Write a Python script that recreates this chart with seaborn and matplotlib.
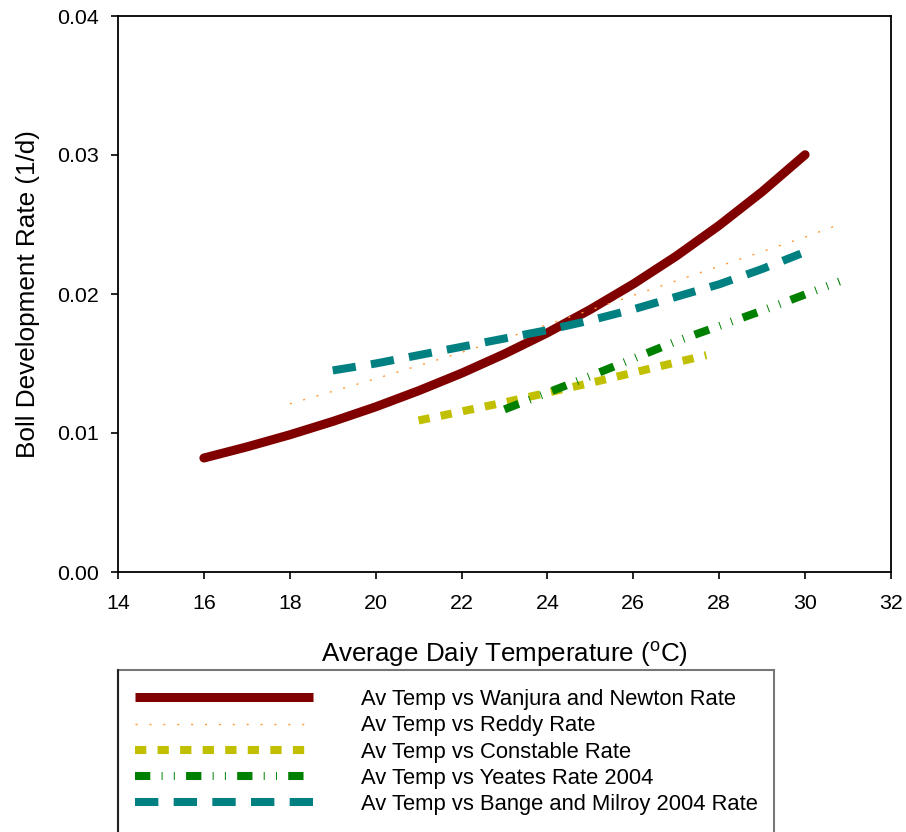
import matplotlib
matplotlib.use("Agg")
import matplotlib.pyplot as plt
import seaborn as sns
import pandas as pd
from matplotlib.patches import Rectangle
from matplotlib.lines import Line2D

# ---- data ----
wanjura_t = [16, 17, 18, 19, 20, 21, 22, 23, 24, 25, 26, 27, 28, 29, 30]
wanjura_r = [0.00820, 0.00900, 0.00987, 0.01083, 0.01188, 0.01304, 0.01430, 0.01569,
             0.01721, 0.01889, 0.02072, 0.02273, 0.02494, 0.02736, 0.03002]
reddy_t = [18, 20, 22, 24, 26, 28, 30, 30.8]
reddy_r = [0.0121, 0.0139, 0.0158, 0.0178, 0.0199, 0.0220, 0.0241, 0.0250]
constable_t = [21, 23, 25, 27.7]
constable_r = [0.0109, 0.0122, 0.0136, 0.0156]
yeates_t = [23, 25, 27, 29, 30.8]
yeates_r = [0.0117, 0.0141, 0.0166, 0.0188, 0.0209]
bange_t = [19, 20, 21, 22, 23, 24, 25, 26, 27, 28, 29, 29.9]
bange_r = [0.0145, 0.0150, 0.0156, 0.0162, 0.0168, 0.0174, 0.0181, 0.0189,
           0.0198, 0.0207, 0.0218, 0.0229]

labels = ["Av Temp vs Wanjura and Newton Rate",
          "Av Temp vs Reddy Rate",
          "Av Temp vs Constable Rate",
          "Av Temp vs Yeates Rate 2004",
          "Av Temp vs Bange and Milroy 2004 Rate"]
x_ticks = [14, 16, 18, 20, 22, 24, 26, 28, 30, 32]
y_ticks = [0.00, 0.01, 0.02, 0.03, 0.04]

sns.set_theme(style="ticks")
plt.rcParams['font.family'] = ['Liberation Sans', 'DejaVu Sans']
plt.rcParams['mathtext.fontset'] = 'custom'
plt.rcParams['mathtext.rm'] = 'Liberation Sans'
plt.rcParams['text.color'] = 'black'
plt.rcParams['axes.labelcolor'] = 'black'

fig = plt.figure(figsize=(9.06, 8.32), dpi=100)
ax = fig.add_axes([118/906, 1 - 572/832, (891-118)/906, (572-16)/832])

series = [
    (wanjura_t, wanjura_r, "#800000", 6.5, "-"),
    (reddy_t, reddy_r, "#FF9933", 1.0, (0, (1.5, 8.5))),
    (constable_t, constable_r, "#C0C000", 5.8, (0, (1.4, 1.4))),
    (yeates_t, yeates_r, "#008000", 5.8, (0, (1.9, 1.4, 0.12, 1.4, 0.12, 1.4))),
    (bange_t, bange_r, "#008080", 5.8, (0, (2.9, 1.9))),
]
handles = []
for (t, r, c, lw, ls), lab in zip(series, labels):
    df = pd.DataFrame({"t": t, "r": r})
    sns.lineplot(data=df, x="t", y="r", ax=ax, color=c, linewidth=lw,
                 linestyle=ls, sort=False, estimator=None)
    handles.append(Line2D([], [], color=c, linewidth=lw, linestyle=ls,
                          solid_capstyle='butt', dash_capstyle='butt'))

ax.set_xlim(14, 32)
ax.set_ylim(0, 0.04)
ax.set_xticks(x_ticks)
ax.set_yticks(y_ticks)
ax.set_xticklabels([str(v) for v in x_ticks])
ax.set_yticklabels([f"{v:.2f}" for v in y_ticks])
ax.tick_params(direction='out', length=5, width=1.2, labelsize=15.4,
               colors='black', top=False, right=False)
ax.tick_params(axis='x', pad=11)
ax.tick_params(axis='y', pad=8.5)
for s in ax.spines.values():
    s.set_visible(True)
    s.set_color('black')
    s.set_linewidth(1.3)
ax.grid(False)
ax.set_xlabel(r"Average Daiy Temperature ($\mathregular{^{o}}$C)", fontsize=18.7,
              labelpad=19.5, color='black')
ax.set_ylabel("Boll Development Rate (1/d)", fontsize=18.8, labelpad=12.5, color='black')

# legend frame
fig.patches.append(Rectangle((118/906, -0.1), (774-118)/906, 0.1 + (832-670)/832,
                             transform=fig.transFigure, facecolor='white',
                             edgecolor='#777777', linewidth=1.5, zorder=0))
fig.add_artist(Line2D([118/906, 118/906], [0, (832-670)/832], transform=fig.transFigure,
                      color='#222222', linewidth=1.5))

leg = fig.legend(handles, labels, loc='upper left',
                 bbox_to_anchor=(135/906, 1 - 689/832),
                 frameon=False, fontsize=15.8, handlelength=8.1,
                 handletextpad=2.2, labelspacing=0.24, borderpad=0,
                 borderaxespad=0)
for txt in leg.get_texts():
    txt.set_color('black')

fig.savefig("out.png", dpi=100)
